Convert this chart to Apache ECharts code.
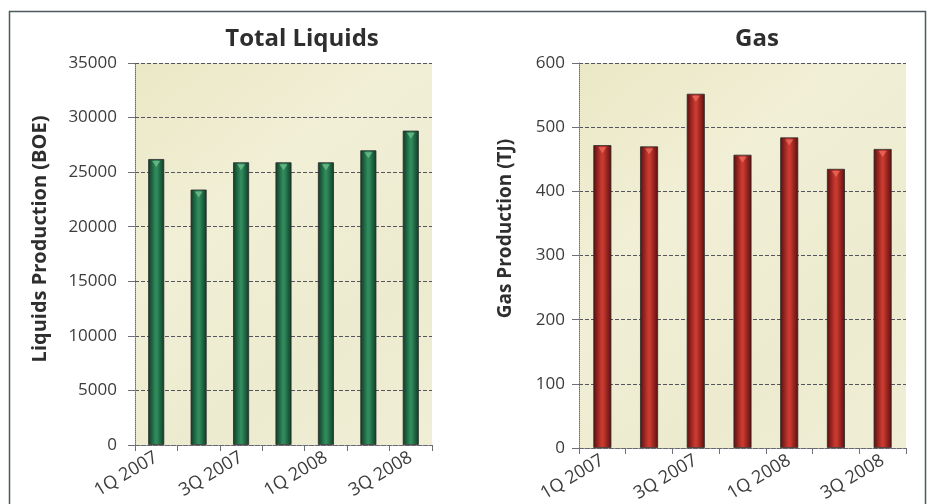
<!DOCTYPE html>
<html>
<head>
<meta charset="utf-8">
<script src="https://cdn.jsdelivr.net/npm/echarts@6/dist/echarts.min.js"></script>
<style>
  html, body { margin: 0; padding: 0; background: #ffffff; }
  #chart { width: 931px; height: 504px; }
</style>
</head>
<body>
<div id="chart"></div>
<script>
// Quarterly production, 1Q 2007 – 3Q 2008
const quarters = ['1Q 2007', '2Q 2007', '3Q 2007', '4Q 2007', '1Q 2008', '2Q 2008', '3Q 2008'];
const liquidsBoe = [26200, 23400, 25900, 25900, 25900, 27000, 28800];
const gasTj = [472, 470, 552, 457, 484, 435, 466];
const liquidsAxis = { min: 0, max: 35000, interval: 5000 };
const gasAxis = { min: 0, max: 600, interval: 100 };

const FONT = '"Open Sans", "DejaVu Sans", sans-serif';

// parchment-like plot fill: a soft diagonal wash of cream tones
const plotFill = {
  type: 'linear', x: 0, y: 0, x2: 1, y2: 1,
  colorStops: [
    { offset: 0, color: '#ebe8c6' },
    { offset: 0.35, color: '#f1efd6' },
    { offset: 0.7, color: '#ecebcf' },
    { offset: 1, color: '#f0eed5' }
  ]
};

function cylinder(edge, mid) {
  return {
    type: 'linear', x: 0, y: 0, x2: 1, y2: 0,
    colorStops: [
      { offset: 0, color: edge },
      { offset: 0.45, color: mid },
      { offset: 0.55, color: mid },
      { offset: 1, color: edge }
    ]
  };
}

function xAxisFor(gridIndex) {
  return {
    type: 'category', gridIndex, data: quarters,
    axisLine: { lineStyle: { color: '#6f6f78', width: 1, type: 'dotted' } },
    axisTick: { show: true, interval: 0, length: 6, lineStyle: { color: '#6f6f78' } },
    axisLabel: {
      interval: 1, rotate: 31, margin: 11,
      fontFamily: FONT, fontSize: 18, color: '#3c3c3c'
    },
    splitLine: { show: false }
  };
}

function yAxisFor(gridIndex, range, name, nameSize, nameGap, shift, labelMargin) {
  return {
    type: 'value', gridIndex,
    min: range.min, max: range.max, interval: range.interval,
    name, nameLocation: 'middle', nameGap,
    nameTextStyle: {
      fontFamily: FONT, fontSize: nameSize, fontWeight: 'bold', color: '#2e2e2e',
      padding: [0, 0, 0, shift]
    },
    axisLine: { show: true, lineStyle: { color: '#6f6f78', width: 1, type: 'dotted' } },
    axisTick: { show: true, length: 7, lineStyle: { color: '#6f6f78' } },
    axisLabel: {
      margin: labelMargin, fontFamily: FONT, fontSize: 17, color: '#3c3c3c',
      formatter: (v) => String(v)
    },
    splitLine: { show: true, lineStyle: { color: '#555560', width: 1, type: [4, 2] } }
  };
}

function barSeries(idx, values, edge, mid, width) {
  return {
    type: 'bar', xAxisIndex: idx, yAxisIndex: idx, data: values,
    barWidth: width,
    itemStyle: { color: cylinder(edge, mid), borderColor: '#2a2a2a', borderWidth: 0.8 },
    z: 3
  };
}

function capSeries(idx, values, color) {
  return {
    type: 'scatter', xAxisIndex: idx, yAxisIndex: idx, data: values,
    symbol: 'triangle', symbolRotate: 180, symbolSize: [8, 6], symbolOffset: [0, 5],
    itemStyle: { color }, silent: true, z: 4
  };
}

const chart = echarts.init(document.getElementById('chart'), null, { renderer: 'canvas' });

chart.setOption({
  backgroundColor: '#ffffff',
  animation: false,
  title: [
    { text: 'Total Liquids', left: 297, top: 22, textAlign: 'center',
      textStyle: { fontFamily: FONT, fontSize: 24, fontWeight: 'bold', color: '#2e2e2e' } },
    { text: 'Gas', left: 752, top: 22, textAlign: 'center',
      textStyle: { fontFamily: FONT, fontSize: 24, fontWeight: 'bold', color: '#2e2e2e' } }
  ],
  grid: [
    { left: 135, top: 63, width: 297, height: 382, show: true, backgroundColor: plotFill,
      borderWidth: 0, containLabel: false, outerBoundsMode: 'none' },
    { left: 579, top: 63, width: 327, height: 385, show: true, backgroundColor: plotFill,
      borderWidth: 0, containLabel: false, outerBoundsMode: 'none' }
  ],
  xAxis: [xAxisFor(0), xAxisFor(1)],
  yAxis: [
    yAxisFor(0, liquidsAxis, 'Liquids Production (BOE)', 20, 85, 30, 18),
    yAxisFor(1, gasAxis, 'Gas Production (TJ)', 19, 64, 54, 14)
  ],
  series: [
    barSeries(0, liquidsBoe, '#0e3a24', '#2f8a5c', 16),
    capSeries(0, liquidsBoe, '#6fbf8c'),
    barSeries(1, gasTj, '#5a0e0e', '#c8392f', 18),
    capSeries(1, gasTj, '#ec6a5c')
  ],
  graphic: [
    { type: 'rect', shape: { x: 9.5, y: 11.5, width: 916, height: 520 },
      style: { fill: null, stroke: '#4d5a5e', lineWidth: 1.5 }, z: 10, silent: true }
  ]
});
</script>
</body>
</html>
